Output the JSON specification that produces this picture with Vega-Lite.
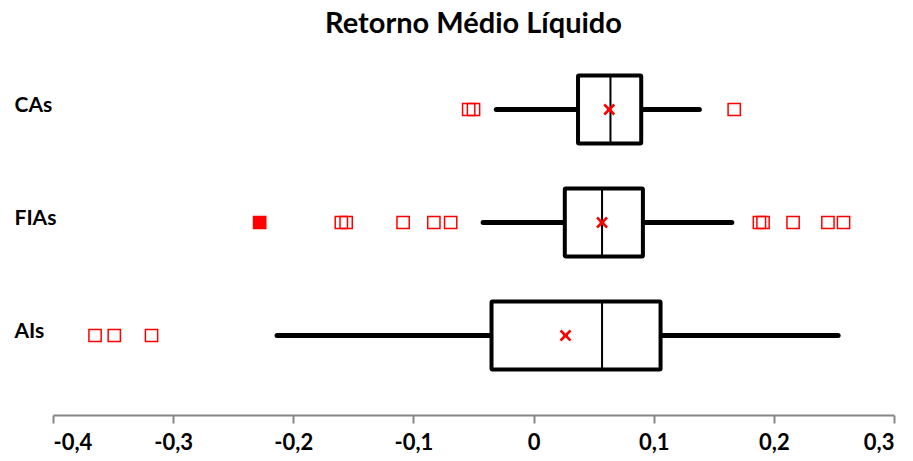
{
  "$schema": "https://vega.github.io/schema/vega-lite/v6.json",
  "width": 841,
  "height": 339,
  "padding": {"left": 14, "top": 10, "right": 5, "bottom": 5},
  "background": "white",
  "title": {"text": "Retorno Médio Líquido", "font": "Lato", "fontSize": 29, "fontWeight": "bold", "color": "black", "anchor": "middle", "offset": 14},
  "config": {"view": {"stroke": null}, "font": "Lato"},
  "datasets": {
    "stats": [
      {"grupo": "CAs", "min": -0.031, "q1": 0.037, "mediana": 0.064, "q3": 0.0896, "max": 0.138, "media": 0.063},
      {"grupo": "FIAs", "min": -0.042, "q1": 0.026, "mediana": 0.057, "q3": 0.091, "max": 0.165, "media": 0.057},
      {"grupo": "AIs", "min": -0.2135, "q1": -0.035, "mediana": 0.057, "q3": 0.1057, "max": 0.2535, "media": 0.0266}
    ],
    "outliers": [
      {"grupo": "CAs", "valor": -0.054, "sobreposto": false},
      {"grupo": "CAs", "valor": -0.05, "sobreposto": false},
      {"grupo": "CAs", "valor": 0.167, "sobreposto": false},
      {"grupo": "FIAs", "valor": -0.228, "sobreposto": true},
      {"grupo": "FIAs", "valor": -0.16, "sobreposto": false},
      {"grupo": "FIAs", "valor": -0.156, "sobreposto": false},
      {"grupo": "FIAs", "valor": -0.1086, "sobreposto": false},
      {"grupo": "FIAs", "valor": -0.083, "sobreposto": false},
      {"grupo": "FIAs", "valor": -0.069, "sobreposto": false},
      {"grupo": "FIAs", "valor": 0.188, "sobreposto": false},
      {"grupo": "FIAs", "valor": 0.191, "sobreposto": false},
      {"grupo": "FIAs", "valor": 0.216, "sobreposto": false},
      {"grupo": "FIAs", "valor": 0.245, "sobreposto": false},
      {"grupo": "FIAs", "valor": 0.258, "sobreposto": false},
      {"grupo": "AIs", "valor": -0.365, "sobreposto": false},
      {"grupo": "AIs", "valor": -0.349, "sobreposto": false},
      {"grupo": "AIs", "valor": -0.318, "sobreposto": false}
    ]
  },
  "encoding": {
    "y": {
      "field": "grupo", "type": "nominal",
      "scale": {"domain": ["CAs", "FIAs", "AIs"], "paddingInner": 0.4, "paddingOuter": 0.2},
      "axis": {"title": null, "domain": false, "ticks": false, "labelAlign": "left", "labelPadding": 39, "labelFontSize": 21, "labelFontWeight": "bold", "labelColor": "black", "labelOffset": -4, "labelFont": "Lato"}
    }
  },
  "layer": [
    {
      "data": {"name": "stats"},
      "mark": {"type": "rule", "strokeWidth": 5, "strokeCap": "round", "color": "black"},
      "encoding": {
        "x": {
          "field": "min", "type": "quantitative",
          "scale": {"domain": [-0.4, 0.3], "nice": false, "zero": false},
          "axis": {"title": null, "grid": false, "values": [-0.4, -0.3, -0.2, -0.1, 0, 0.1, 0.2, 0.3], "labelExpr": "datum.value == 0 ? '0' : replace(replace(format(datum.value, '.1f'), '.', ','), '\u2212', '-')", "domainColor": "#878787", "domainWidth": 2, "tickColor": "#878787", "tickWidth": 2, "tickSize": 8, "labelFontSize": 22, "labelFontWeight": "bold", "labelColor": "black", "labelPadding": 9, "offset": 23, "labelFont": "Lato"}
        },
        "x2": {"field": "max"}
      }
    },
    {
      "data": {"name": "stats"},
      "mark": {"type": "bar", "fill": "white", "stroke": "black", "strokeWidth": 4, "cornerRadius": 1},
      "encoding": {
        "x": {"field": "q1", "type": "quantitative"},
        "x2": {"field": "q3"}
      }
    },
    {
      "data": {"name": "stats"},
      "mark": {"type": "tick", "color": "black", "opacity": 1, "thickness": 2, "size": 66},
      "encoding": {
        "x": {"field": "mediana", "type": "quantitative"}
      }
    },
    {
      "data": {"name": "stats"},
      "mark": {"type": "point", "shape": "M-1,-1L1,1M-1,1L1,-1M-0.5,0L0.5,0", "stroke": "red", "strokeWidth": 2.5, "size": 100, "filled": false, "opacity": 1},
      "encoding": {
        "x": {"field": "media", "type": "quantitative"}
      }
    },
    {
      "data": {"name": "outliers"},
      "mark": {"type": "point", "shape": "square", "stroke": "red", "strokeWidth": 1.5, "size": 150, "opacity": 1},
      "encoding": {
        "x": {"field": "valor", "type": "quantitative"},
        "fill": {"condition": {"test": "datum.sobreposto", "value": "red"}, "value": "transparent"}
      }
    }
  ]
}
